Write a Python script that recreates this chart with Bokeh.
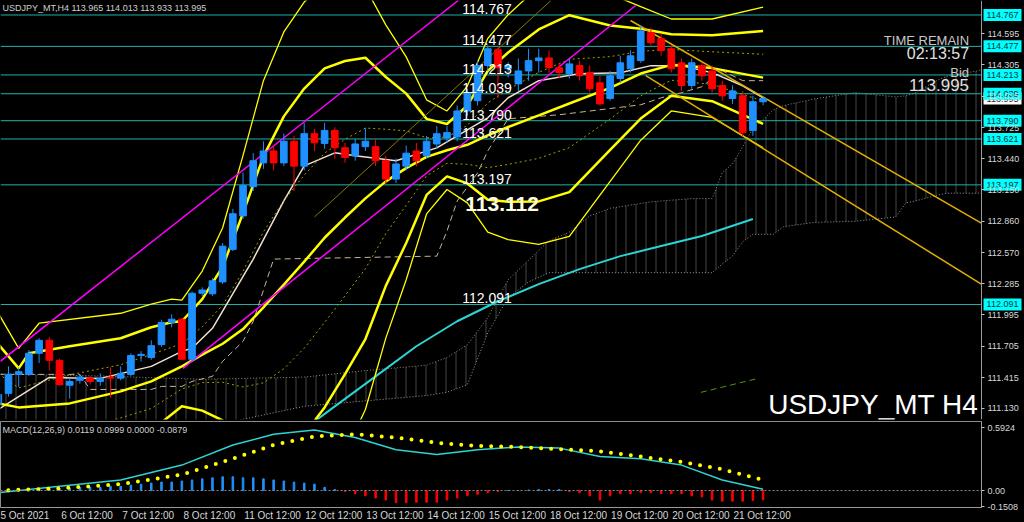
from bokeh.plotting import figure
from bokeh.layouts import column
from bokeh.models import Range1d, FixedTicker, Span, Label, ColumnDataSource
from bokeh.core.properties import value
from bokeh.embed import file_html
from bokeh.resources import INLINE

# ---------------- data ----------------
bar_idx = list(range(76))
opens = [111.17, 111.27, 111.445, 111.445, 111.64, 111.76, 111.575, 111.345, 111.39, 111.41,
         111.38, 111.42, 111.41, 111.445, 111.62, 111.60, 111.72, 111.925, 111.955, 111.585,
         112.195, 112.19, 112.30, 112.60, 112.91, 113.18, 113.40, 113.51, 113.40, 113.60,
         113.37, 113.67, 113.58, 113.70, 113.54, 113.465, 113.55, 113.55, 113.42, 113.25,
         113.37, 113.51, 113.465, 113.575, 113.63, 113.64, 113.88, 113.975, 114.30, 114.445,
         114.27, 114.13, 114.25, 114.345, 114.37, 114.28, 114.225, 114.30, 114.235, 114.14,
         113.995, 114.18, 114.27, 114.345, 114.605, 114.55, 114.455, 114.325, 114.115, 114.30,
         114.25, 114.115, 113.995, 114.02, 113.70, 113.965]
highs = [111.28, 111.52, 111.51, 111.67, 111.78, 111.79, 111.59, 111.41, 111.445, 111.43,
         111.455, 111.51, 111.52, 111.64, 111.66, 111.76, 111.95, 112.00, 111.965, 112.21,
         112.25, 112.335, 112.66, 112.975, 113.31, 113.49, 113.60, 113.56, 113.67, 113.65,
         113.77, 113.715, 113.77, 113.73, 113.585, 113.62, 113.725, 113.62, 113.465, 113.44,
         113.56, 113.585, 113.65, 113.74, 113.74, 113.93, 114.085, 114.345, 114.485, 114.475,
         114.33, 114.365, 114.455, 114.455, 114.44, 114.325, 114.365, 114.345, 114.30, 114.205,
         114.25, 114.39, 114.44, 114.67, 114.65, 114.595, 114.485, 114.365, 114.365, 114.325,
         114.30, 114.16, 114.115, 114.065, 114.02, 114.013]
lows = [111.13, 111.24, 111.33, 111.43, 111.55, 111.48, 111.34, 111.22, 111.36, 111.35,
        111.34, 111.23, 111.39, 111.43, 111.565, 111.58, 111.70, 111.88, 111.575, 111.565,
        112.17, 112.17, 112.28, 112.585, 112.88, 113.14, 113.345, 113.33, 113.37, 113.14,
        113.33, 113.51, 113.53, 113.44, 113.40, 113.42, 113.51, 113.37, 113.205, 113.215,
        113.33, 113.37, 113.44, 113.53, 113.585, 113.60, 113.835, 113.93, 114.25, 114.00,
        114.19, 114.065, 114.16, 114.235, 114.235, 114.18, 114.18, 114.16, 114.05, 113.93,
        113.975, 114.14, 114.235, 114.325, 114.485, 114.39, 114.235, 114.065, 114.085, 114.16,
        114.05, 113.975, 113.945, 113.65, 113.65, 113.933]
closes = [111.26, 111.445, 111.47, 111.64, 111.76, 111.575, 111.35, 111.38, 111.42, 111.38,
          111.41, 111.41, 111.455, 111.62, 111.63, 111.71, 111.925, 111.955, 111.585, 112.195,
          112.225, 112.31, 112.63, 112.93, 113.19, 113.42, 113.51, 113.40, 113.60, 113.37,
          113.67, 113.585, 113.70, 113.54, 113.45, 113.575, 113.60, 113.42, 113.25, 113.39,
          113.49, 113.42, 113.60, 113.67, 113.68, 113.88, 114.05, 114.30, 114.455, 114.28,
          114.30, 114.25, 114.345, 114.37, 114.28, 114.235, 114.315, 114.205, 114.085, 113.945,
          114.205, 114.325, 114.39, 114.62, 114.51, 114.44, 114.27, 114.115, 114.325, 114.205,
          114.085, 114.02, 114.065, 113.68, 113.965, 113.995]

level_prices = [114.767, 114.477, 114.213, 114.039, 113.790, 113.621, 113.197, 112.091]
level_texts = ["114.767", "114.477", "114.213", "114.039", "113.790", "113.621", "113.197", "112.091"]
bid_price = 113.995
bid_text = "113.995"
mark_price = 113.02
mark_text = "113.112"

price_ticks = [114.595, 114.305, 114.015, 113.725, 113.440, 113.150, 112.860,
               112.570, 112.285, 111.995, 111.705, 111.415, 111.130]
time_bars = [0, 6, 12, 18, 24, 30, 36, 42, 48, 54, 60, 66, 72]
time_labels = ["5 Oct 2021", "6 Oct 12:00", "7 Oct 12:00", "8 Oct 12:00", "11 Oct 12:00",
               "12 Oct 12:00", "13 Oct 12:00", "14 Oct 12:00", "15 Oct 12:00", "18 Oct 12:00",
               "19 Oct 12:00", "20 Oct 12:00", "21 Oct 12:00"]

# Bollinger bands (20): middle and 2-sigma thick, 3-sigma thin, 1-sigma dotted
mid_x = [0, 2, 7, 12, 15, 18, 20, 22, 24, 26, 28, 30, 32, 34, 36, 38, 40, 42, 44, 46, 48, 50, 53, 56, 60, 63, 66, 70, 75]
mid_y = [111.177, 111.140, 111.177, 111.288, 111.380, 111.519, 111.627, 111.728, 111.864, 112.065,
         112.275, 112.487, 112.708, 112.895, 113.072, 113.229, 113.352, 113.456, 113.517, 113.567,
         113.655, 113.732, 113.839, 113.949, 114.094, 114.226, 114.306, 114.276, 114.188]
up1_y = [111.45, 111.32, 111.441, 111.534, 111.63, 111.728, 111.885, 112.084, 112.40, 112.762,
         113.053, 113.287, 113.491, 113.618, 113.722, 113.711, 113.696, 113.632, 113.638, 113.747,
         113.954, 114.078, 114.237, 114.357, 114.382, 114.432, 114.448, 114.427, 114.404]
lo1_y = [110.904, 110.96, 110.913, 111.043, 111.13, 111.31, 111.369, 111.372, 111.328, 111.367,
         111.497, 111.687, 111.925, 112.172, 112.422, 112.746, 113.008, 113.28, 113.396, 113.387,
         113.356, 113.386, 113.442, 113.541, 113.806, 114.02, 114.164, 114.125, 113.972]
up2_x = [0, 2, 3, 7, 12, 15, 17, 18, 20, 22, 24, 26, 28, 30, 32, 34, 36, 38, 40, 42, 44, 46, 48, 50, 53, 56, 60, 63, 66, 70, 75]
up2_y = [111.723, 111.501, 111.640, 111.705, 111.779, 111.881, 111.927, 111.936, 112.14, 112.44,
         112.936, 113.46, 113.83, 114.087, 114.274, 114.342, 114.372, 114.194, 114.04, 113.807,
         113.759, 113.93, 114.25, 114.42, 114.634, 114.765, 114.67, 114.64, 114.59, 114.58, 114.62]
up3_x = [0, 2, 4, 12, 15, 17, 18, 20, 22, 24, 26, 28, 30, 32, 36, 38, 40, 42, 44, 46, 48, 50, 53, 56, 60, 63, 66, 70, 75]
up3_y = [112.010, 111.686, 111.918, 112.010, 112.094, 112.140, 112.131, 112.40, 112.80, 113.47,
         114.16, 114.61, 114.887, 115.06, 115.02, 114.676, 114.38, 113.983, 113.88, 114.11,
         114.55, 114.77, 115.03, 115.17, 114.96, 114.845, 114.73, 114.73, 114.84]
lo2_x = [14, 16, 18, 20, 22, 24, 26, 28, 30, 32, 34, 36, 38, 40, 42, 44, 46, 48, 50, 53, 56, 60, 63, 66, 70, 75]
lo2_y = [110.85, 111.00, 111.15, 111.11, 111.02, 110.79, 110.67, 110.72, 110.89, 111.14,
         111.448, 111.772, 112.263, 112.66, 113.104, 113.275, 113.21, 113.06, 113.04, 113.044,
         113.13, 113.52, 113.81, 114.02, 113.97, 113.76]
lo3_x = [34, 36, 38, 40, 42, 44, 46, 48, 50, 53, 56, 60, 63, 66, 70, 75]
lo3_y = [110.72, 111.12, 111.78, 112.32, 112.928, 113.154, 113.03, 112.76, 112.69, 112.646,
         112.72, 113.23, 113.61, 113.88, 113.82, 113.54]
# fast moving average (white)
ma_x = [0, 5, 10, 15, 18, 19, 21, 25, 28, 30, 33, 35, 39, 43, 48, 50, 53, 57, 61, 64, 67, 70, 73, 75]
ma_y = [111.121, 111.417, 111.408, 111.519, 111.658, 111.686, 111.871, 112.511, 113.048, 113.372,
        113.493, 113.465, 113.419, 113.539, 113.817, 114.002, 114.160, 114.225, 114.234, 114.299,
        114.299, 114.234, 114.113, 114.002]
# kijun (dashed tan)
kj_x = [0, 8, 9, 15, 16, 18, 19, 21, 22, 24, 25, 27, 43, 44, 45, 47, 48, 50, 55, 63, 65, 67, 69, 71, 73, 75]
kj_y = [111.445, 111.445, 111.306, 111.306, 111.334, 111.334, 111.380, 111.427, 111.566, 111.751,
        111.936, 112.511, 112.538, 112.770, 113.048, 113.307, 113.511, 113.808, 113.845, 113.937,
        114.002, 114.049, 114.104, 114.252, 114.160, 114.160]
# long moving average (cyan)
cy_x = [31, 33, 37, 41, 45, 49, 53, 57, 61, 65, 69, 74]
cy_y = [111.010, 111.149, 111.427, 111.705, 111.936, 112.121, 112.279, 112.418, 112.538, 112.631, 112.724, 112.881]
# green dashed MA
gr_x = [68.9, 74.5]
gr_y = [111.279, 111.408]
# ichimoku cloud (span A / span B)
cl_x = [0, 10, 20, 30, 36, 42, 44, 46, 48, 50, 52, 54, 56, 58, 60, 64, 68, 70, 71, 72, 73, 74, 75,
        76, 77, 80, 84, 88, 89, 90, 92, 93, 96, 96.4]
span_a = [111.45, 111.43, 111.40, 111.42, 111.48, 111.53, 111.60, 111.72, 111.97, 112.32, 112.50,
          112.68, 112.76, 112.91, 112.98, 113.04, 113.07, 113.07, 113.31, 113.39, 113.55, 113.72,
          113.80, 113.89, 113.93, 113.99, 114.05, 114.01, 114.02, 114.05, 114.16, 114.20, 114.25, 114.26]
span_b = [110.9, 110.9, 110.95, 111.15, 111.20, 111.25, 111.28, 111.35, 111.83, 112.155, 112.30,
          112.385, 112.385, 112.385, 112.385, 112.385, 112.385, 112.385, 112.465, 112.54, 112.67,
          112.74, 112.74, 112.74, 112.81, 112.85, 112.86, 112.90, 113.03, 113.05, 113.10, 113.12,
          113.12, 113.12]
# trend lines
mag1_x = [0.2, 45.1]
mag1_y = [111.566, 114.901]
mag2_x = [18.1, 62.5]
mag2_y = [111.501, 114.855]
chm_x = [31.0, 54.2]
chm_y = [112.90, 114.901]
or1_x = [62.0, 96.4]
or1_y = [114.716, 112.844]
or2_x = [63.5, 96.4]
or2_y = [114.206, 112.279]

# MACD
macd_x = [0, 6, 12, 18, 23, 27, 31, 35, 39, 43, 47, 51, 55, 59, 63, 67, 71, 75]
macd_main = [-0.02, 0.04, 0.10, 0.24, 0.43, 0.53, 0.57, 0.50, 0.385, 0.34, 0.385, 0.41, 0.40, 0.32, 0.30, 0.24, 0.10, 0.0119]
macd_sig = [0.0, 0.02, 0.06, 0.15, 0.30, 0.43, 0.51, 0.53, 0.50, 0.45, 0.42, 0.41, 0.39, 0.37, 0.32, 0.27, 0.20, 0.0999]
macd_hist = [-0.02, -0.01, 0.0, 0.01, 0.02, 0.02, 0.02, 0.02, 0.03, 0.03, 0.03, 0.04,
             0.04, 0.05, 0.06, 0.07, 0.08, 0.08, 0.09, 0.10, 0.11, 0.12, 0.13, 0.13,
             0.12, 0.12, 0.11, 0.10, 0.09, 0.08, 0.07, 0.06, 0.03, 0.01, -0.01, -0.03,
             -0.05, -0.07, -0.09, -0.115, -0.115, -0.11, -0.11, -0.11, -0.09, -0.07, -0.05, -0.035,
             -0.02, -0.01, 0.0, 0.0, 0.005, 0.01, 0.01, 0.01, -0.01, -0.02, -0.05, -0.09,
             -0.05, -0.03, -0.03, -0.02, -0.02, -0.03, -0.03, -0.03, -0.05, -0.06, -0.09, -0.10,
             -0.10, -0.10, -0.095, -0.0879]
macd_ticks = [0.5924, 0.0, -0.1508]
macd_tick_texts = ["0.5924", "0.00", "-0.1508"]

# ---------------- styling constants ----------------
BG = "black"
UP = "#1E90FF"
DN = "#FF0000"
LEVEL = "#20B2AA"
FONT = "Liberation Sans"
PX_PER_BAR = 10.197
X0 = 0.214                      # left edge of plot (bars)
AXIS_X = X0 + 981 / PX_PER_BAR  # position of price axis (bars)
X1 = X0 + 1024 / PX_PER_BAR     # right edge of the canvas (bars)
BOX_X = AXIS_X + 21 / PX_PER_BAR

xr = Range1d(X0, X1)
xr2 = Range1d(X0, AXIS_X)

main = figure(frame_width=1024, frame_height=419, x_range=xr, y_range=Range1d(111.028, 114.901),
              y_axis_location="right", output_backend="svg", toolbar_location=None,
              background_fill_color=BG, border_fill_color=BG,
              min_border_left=0, min_border_right=0, min_border_top=0, min_border_bottom=2,
              outline_line_color=None)
main.xaxis.visible = False
main.grid.visible = False
ya = main.yaxis[0]
ya.fixed_location = AXIS_X
ya.ticker = FixedTicker(ticks=price_ticks)
ya.major_label_overrides = {t: f"{t:.3f}" for t in price_ticks}
ya.axis_line_color = "#9a9a9a"
ya.major_tick_line_color = "#c0c0c0"
ya.major_tick_out = 3
ya.major_tick_in = 0
ya.minor_tick_line_color = None
ya.major_label_text_color = "#d8d8d8"
ya.major_label_text_font = FONT
ya.major_label_text_font_size = "9px"
ya.major_label_standoff = 3

# cloud
main.varea(x=cl_x, y1=span_b, y2=span_a, fill_alpha=0, hatch_pattern="|", hatch_color="#9a9a9a",
           hatch_alpha=0.45, hatch_scale=10, hatch_weight=1)
main.line(cl_x, span_a, line_color="#9a8a70", line_dash="1 2", line_width=1)
main.line(cl_x, span_b, line_color="#9a9a9a", line_dash="1 2", line_width=1)

# horizontal levels (up to the price axis)
n = len(level_prices)
main.segment(x0=[X0] * n, x1=[AXIS_X] * n, y0=level_prices, y1=level_prices,
             line_color=LEVEL, line_width=1)

# moving averages / bands
main.line(cy_x, cy_y, line_color="#2ED3D3", line_width=2)
main.line(gr_x, gr_y, line_color="#4C9A00", line_width=1, line_dash="6 4")
main.line(kj_x, kj_y, line_color="#C8B49A", line_width=1, line_dash="6 4")
main.line(ma_x, ma_y, line_color="#F0E0D0", line_width=1.5)
main.line(mid_x, up1_y, line_color="#A0A000", line_width=1, line_dash="2 3")
main.line(mid_x, lo1_y, line_color="#A0A000", line_width=1, line_dash="2 3")
main.line(up3_x, up3_y, line_color="#FFFF00", line_width=1.3)
main.line(lo3_x, lo3_y, line_color="#FFFF00", line_width=1.3)
main.line(mid_x, mid_y, line_color="#FFFF00", line_width=2.5)
main.line(up2_x, up2_y, line_color="#FFFF00", line_width=2.5)
main.line(lo2_x, lo2_y, line_color="#FFFF00", line_width=2.5)

# trend lines
main.line(mag1_x, mag1_y, line_color="#FF00FF", line_width=1.5)
main.line(mag2_x, mag2_y, line_color="#FF00FF", line_width=1.5)
main.line(chm_x, chm_y, line_color="#8B7500", line_width=1)
main.line(or1_x, or1_y, line_color="#E0B000", line_width=1.5)
main.line(or2_x, or2_y, line_color="#E0B000", line_width=1.5)

# candles
tops = [max(o, c) for o, c in zip(opens, closes)]
bots = [min(o, c) for o, c in zip(opens, closes)]
cols = [UP if c >= o else DN for o, c in zip(opens, closes)]
src = ColumnDataSource(dict(x=bar_idx, h=highs, l=lows, t=tops, b=bots, c=cols))
main.segment(x0="x", y0="l", x1="x", y1="h", line_color="c", line_width=1, source=src)
main.vbar(x="x", top="t", bottom="b", width=0.65, fill_color="c", line_color="c", source=src)

# level texts inside chart
for lp, lt in zip(level_prices, level_texts):
    main.add_layout(Label(x=45.5, y=lp, y_offset=1, text=lt, text_color="white",
                          text_font=FONT, text_font_size="14px", text_baseline="bottom"))
main.add_layout(Label(x=45.8, y=mark_price, text=mark_text, text_color="#FFFDE0",
                      text_font=FONT, text_font_size="21px", text_font_style="bold",
                      text_baseline="middle"))

# price boxes on the axis
main.rect(x=[BOX_X], y=[bid_price], width=38, height=12, width_units="screen", height_units="screen",
          fill_color="white", line_color=None)
main.text(x=[BOX_X], y=[bid_price], text=[bid_text], text_color="#303030", text_font=value(FONT),
          text_font_size="9px", text_align="center", text_baseline="middle")
main.rect(x=[BOX_X] * n, y=level_prices, width=38, height=12, width_units="screen", height_units="screen",
          fill_color="#00FFFF", line_color=None)
main.text(x=[BOX_X] * n, y=level_prices, text=level_texts, text_color="#003838", text_font=value(FONT),
          text_font_size="9px", text_align="center", text_baseline="middle")

# info texts
main.add_layout(Label(x=0.4, y=114.83, text="USDJPY_MT,H4  113.965 114.013 113.933 113.995",
                      text_color="#d0d0d0", text_font=FONT, text_font_size="9px", text_baseline="middle"))
main.add_layout(Label(x=95.2, y=114.53, text="TIME REMAIN", text_color="#c8c8c8", text_font=FONT,
                      text_font_size="13px", text_align="right", text_baseline="middle"))
main.add_layout(Label(x=95.2, y=114.41, text="02:13:57", text_color="#e0e0e0", text_font=FONT,
                      text_font_size="16px", text_align="right", text_baseline="middle"))
main.add_layout(Label(x=95.2, y=114.24, text="Bid", text_color="#c8c8c8", text_font=FONT,
                      text_font_size="13px", text_align="right", text_baseline="middle"))
main.add_layout(Label(x=95.2, y=114.12, text="113.995", text_color="#e0e0e0", text_font=FONT,
                      text_font_size="17px", text_align="right", text_baseline="middle"))
main.add_layout(Label(x=96.1, y=111.168, text="USDJPY_MT H4", text_color="white", text_font=FONT,
                      text_font_size="28px", text_align="right", text_baseline="middle"))

# ---------------- MACD panel ----------------
macd = figure(frame_width=981, frame_height=86, x_range=xr2, y_range=Range1d(-0.160, 0.651),
              y_axis_location="right", output_backend="svg", toolbar_location=None,
              background_fill_color=BG, border_fill_color=BG,
              min_border_left=0, min_border_right=0, min_border_top=0, min_border_bottom=0,
              outline_line_color="#8c8c8c")
macd.grid.visible = False
my = macd.yaxis[0]
my.ticker = FixedTicker(ticks=macd_ticks)
my.major_label_overrides = {t: s for t, s in zip(macd_ticks, macd_tick_texts)}
my.axis_line_color = "#9a9a9a"
my.major_tick_line_color = "#c0c0c0"
my.major_tick_out = 3
my.major_tick_in = 0
my.minor_tick_line_color = None
my.major_label_text_color = "#d8d8d8"
my.major_label_text_font = FONT
my.major_label_text_font_size = "9px"
my.major_label_standoff = 3

mx = macd.xaxis[0]
label_shift = [1.7] + [2.7] * 3 + [2.9] * 9
tick_pos = [b + s for b, s in zip(time_bars, label_shift)]
mx.ticker = FixedTicker(ticks=tick_pos)
mx.major_label_overrides = {p: t for p, t in zip(tick_pos, time_labels)}
mx.axis_line_color = "#9a9a9a"
mx.major_tick_out = 0
mx.major_tick_in = 0
mx.minor_tick_line_color = None
mx.major_label_text_color = "#d8d8d8"
mx.major_label_text_font = FONT
mx.major_label_text_font_size = "10px"
mx.major_label_standoff = 2

macd.add_layout(Span(location=0, dimension="width", line_color="#8a8a8a", line_dash="2 2", line_width=1))
hcols = [UP if v >= 0 else DN for v in macd_hist]
macd.vbar(x=bar_idx, top=macd_hist, bottom=0, width=0.15, fill_color=hcols, line_color=hcols)
macd.line(macd_x, macd_main, line_color="#2ED3D3", line_width=1.5)
macd.line(macd_x, macd_sig, line_color="#FFFF00", line_width=4, line_dash="0 10", line_cap="round")
macd.add_layout(Label(x=0.4, y=0.57, text="MACD(12,26,9) 0.0119 0.0999 0.0000 -0.0879",
                      text_color="#d0d0d0", text_font=FONT, text_font_size="9px", text_baseline="middle"))

layout = column(main, macd, spacing=0)
layout.styles = {"background-color": "black"}
open("out.html", "w").write(file_html(layout, INLINE))
